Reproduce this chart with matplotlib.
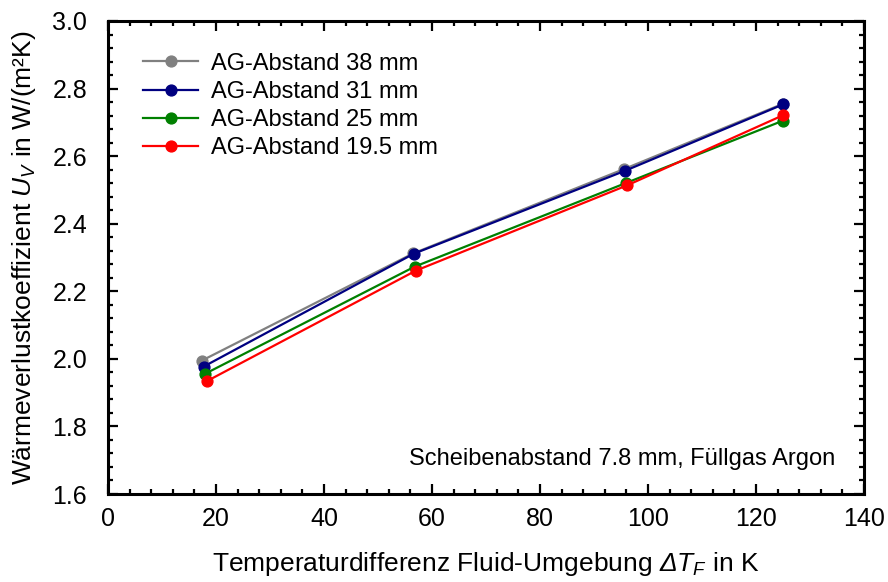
import matplotlib
matplotlib.use("Agg")
import matplotlib.pyplot as plt
from matplotlib.ticker import MultipleLocator, FormatStrFormatter

plt.rcParams['font.family'] = ['Liberation Sans', 'DejaVu Sans']
plt.rcParams['mathtext.fontset'] = 'custom'
plt.rcParams['mathtext.rm'] = 'Liberation Sans'
plt.rcParams['mathtext.it'] = 'Liberation Sans:italic'
plt.rcParams['mathtext.sf'] = 'Liberation Sans:italic'

labels = ["AG-Abstand 38 mm", "AG-Abstand 31 mm", "AG-Abstand 25 mm", "AG-Abstand 19.5 mm"]
colors = ["#808080", "#000080", "#008000", "#ff0000"]
x38 = [17.4, 56.5, 95.6, 125.0]
y38 = [1.995, 2.312, 2.562, 2.755]
x31 = [17.7, 56.6, 95.8, 125.0]
y31 = [1.977, 2.311, 2.557, 2.753]
x25 = [18.0, 56.8, 96.0, 125.0]
y25 = [1.956, 2.273, 2.521, 2.705]
x195 = [18.3, 57.0, 96.2, 125.0]
y195 = [1.934, 2.261, 2.514, 2.721]

fig = plt.figure(figsize=(8.88, 5.82), dpi=100)
ax = fig.add_axes([108/888, 1 - 494/582, 756/888, 473/582])

for xs, ys, c, l in zip([x38, x31, x25, x195], [y38, y31, y25, y195], colors, labels):
    ax.plot(xs, ys, '-o', color=c, lw=1.6, ms=7.8, label=l)

ax.set_xlim(0, 140)
ax.set_ylim(1.6, 3.0)
ax.xaxis.set_major_locator(MultipleLocator(20))
ax.xaxis.set_minor_locator(MultipleLocator(4))
ax.yaxis.set_major_locator(MultipleLocator(0.2))
ax.yaxis.set_minor_locator(MultipleLocator(0.04))
ax.yaxis.set_major_formatter(FormatStrFormatter('%.1f'))
ax.tick_params(which='both', direction='in', top=True, right=True, width=1.6, labelsize=18)
ax.tick_params(which='major', length=7)
ax.tick_params(which='minor', length=3.5)
ax.tick_params(axis='x', which='major', pad=9)
ax.tick_params(axis='y', which='major', pad=15)
for s in ax.spines.values():
    s.set_linewidth(2.2)

ax.set_xlabel(r"Temperaturdifferenz Fluid-Umgebung $\mathsf{Δ}\mathit{T_F}$ in K", fontsize=19)
ax.set_ylabel(r"Wärmeverlustkoeffizient $\mathit{U_V}$ in W/(m²K)", fontsize=19)
ax.xaxis.set_label_coords(0.5, -0.118)
ax.yaxis.set_label_coords(-0.093, 0.5)

ax.text(0.9616, 0.061, "Scheibenabstand 7.8 mm, Füllgas Argon", transform=ax.transAxes,
        ha='right', va='baseline', fontsize=17)

ax.legend(loc='upper left', frameon=False, fontsize=17, handlelength=2.35,
          bbox_to_anchor=(0.046, 0.933), borderaxespad=0, borderpad=0,
          labelspacing=0.26, handletextpad=0.55)

fig.savefig("out.png", dpi=100)
